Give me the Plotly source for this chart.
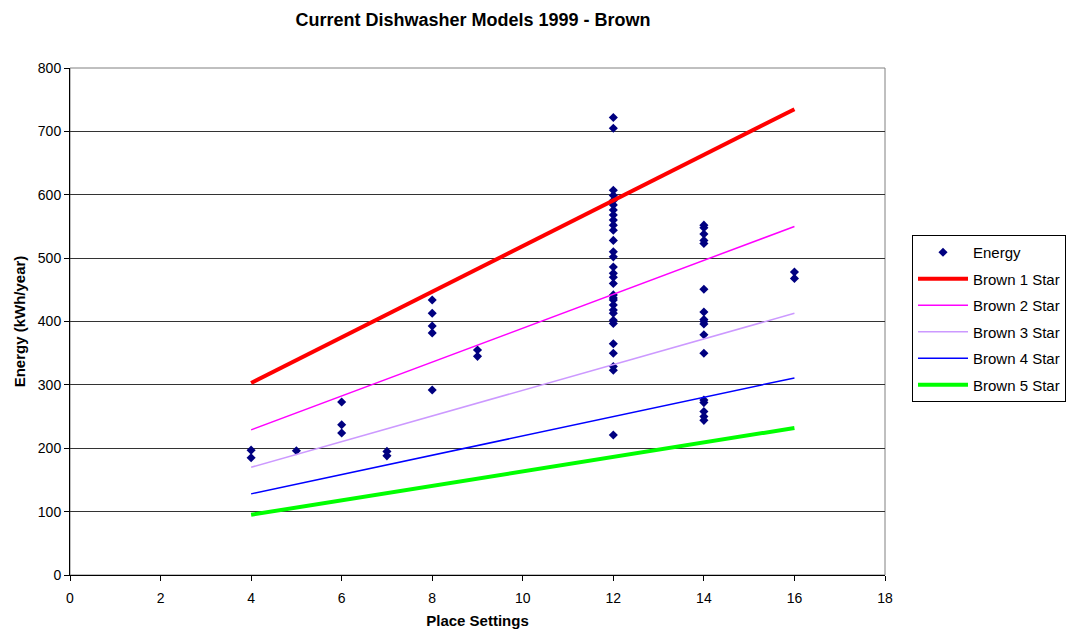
import plotly.graph_objects as go

# ── data: energy (kWh/year) of each model, grouped by place settings ──
energy_by_settings = {
    4: [197, 185],
    5: [196],
    6: [273, 237, 224],
    7: [195, 188],
    8: [434, 413, 393, 382, 292],
    9: [355, 345],
    12: [722, 705, 607, 599, 591, 584, 576, 568, 560, 552, 544, 528, 510,
         502, 486, 476, 470, 460, 442, 437, 434, 426, 418, 413, 402, 397,
         365, 350, 329, 323, 221],
    14: [552, 548, 538, 528, 523, 451, 415, 403, 400, 396, 379, 350, 276,
         272, 258, 250, 244],
    16: [478, 468],
}
place_settings = [k for k, vals in energy_by_settings.items() for _ in vals]
energy = [v for vals in energy_by_settings.values() for v in vals]

star_x = [4, 16]
brown_1_star = [303, 735]
brown_2_star = [229, 550]
brown_3_star = [170, 413]
brown_4_star = [128, 311]
brown_5_star = [95, 232]

x_ticks = [0, 2, 4, 6, 8, 10, 12, 14, 16, 18]
y_ticks = [0, 100, 200, 300, 400, 500, 600, 700, 800]

# ── chart ────────────────────────────────────────────────────────────
font = "Arial, Liberation Sans, sans-serif"
fig = go.Figure()

fig.add_trace(go.Scatter(
    x=place_settings, y=energy, mode="markers", name="Energy", legendgroup="e",
    marker=dict(symbol="diamond", color="#000080", size=7),
))

lines = [
    ("Brown 1 Star", brown_1_star, "#ff0000", 4),
    ("Brown 2 Star", brown_2_star, "#ff00ff", 1.5),
    ("Brown 3 Star", brown_3_star, "#cc99ff", 1.5),
    ("Brown 4 Star", brown_4_star, "#0000ff", 1.5),
    ("Brown 5 Star", brown_5_star, "#00ff00", 4),
]
for label, ys, color, width in lines:
    fig.add_trace(go.Scatter(
        x=star_x, y=ys, mode="lines", name=label, legendgroup=label,
        line=dict(color=color, width=width),
    ))

# gray plot-area frame (top/right)
fig.add_shape(type="rect", xref="paper", yref="paper", x0=0, y0=0, x1=1, y1=1,
              line=dict(color="#808080", width=1), layer="below")

# page body adds an 8px offset, so the figure is drawn 8px smaller
W, H = 1071, 621
fig.update_layout(
    width=W, height=H,
    paper_bgcolor="white", plot_bgcolor="white",
    margin=dict(l=62, r=194, t=60, b=54),
    font=dict(family=font, size=14, color="black"),
    title=dict(text="<b>Current Dishwasher Models 1999 - Brown</b>",
               x=465 / W, xanchor="center", y=1 - 12 / H, yanchor="middle",
               font=dict(size=18)),
    legend=dict(x=(904 - 62) / 815, y=(567 - 227) / 507, xanchor="left", yanchor="top",
                bgcolor="white", bordercolor="black", borderwidth=1,
                font=dict(size=15), tracegroupgap=4, itemwidth=50),
    showlegend=True,
)
fig.update_xaxes(
    range=[0, 18], tickvals=x_ticks, showgrid=False, zeroline=False,
    showline=True, linecolor="black", linewidth=1, automargin=False,
    ticks="outside", ticklen=5, tickcolor="black", ticklabelstandoff=5,
    title=dict(text="<b>Place Settings</b>", font=dict(size=15), standoff=13),
)
fig.update_yaxes(
    range=[0, 800], tickvals=y_ticks, showgrid=True, gridcolor="#333333", gridwidth=1,
    zeroline=False, showline=True, linecolor="black", linewidth=1, automargin=False,
    ticks="outside", ticklen=5, tickcolor="black",
    title=dict(text="<b>Energy (kWh/year)</b>", font=dict(size=15), standoff=8),
)

fig.write_html("out.html")
